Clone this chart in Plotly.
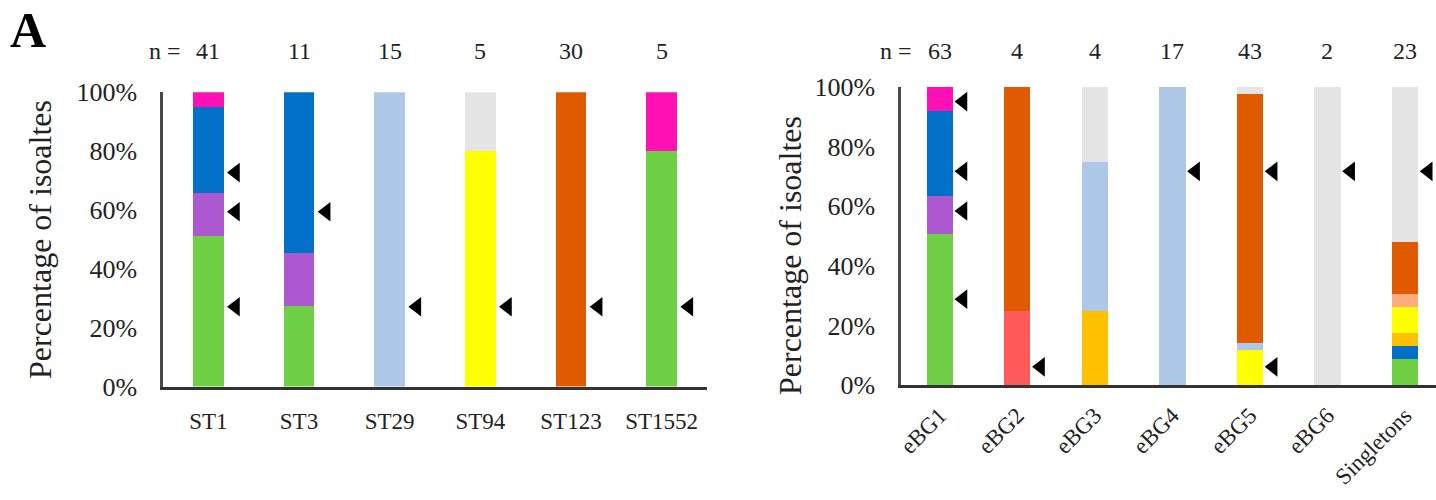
import plotly.graph_objects as go

# ---------------- data ----------------
# Left panel: sequence types, isolate counts per sub-group
st_names = ["ST1", "ST3", "ST29", "ST94", "ST123", "ST1552"]
st_n = [41, 11, 15, 5, 30, 5]
st_green = [21, 3, 0, 0, 0, 4]
st_purple = [6, 2, 0, 0, 0, 0]
st_blue = [12, 6, 0, 0, 0, 0]
st_pink = [2, 0, 0, 0, 0, 1]
st_lightblue = [0, 0, 15, 0, 0, 0]
st_yellow = [0, 0, 0, 4, 0, 0]
st_orange = [0, 0, 0, 0, 30, 0]
st_gray = [0, 0, 0, 1, 0, 0]

# arrowhead markers (category index, percentage level)
st_arrow_idx = [0, 0, 0, 1, 2, 3, 4, 5]
st_arrow_pct = [72.7, 59.4, 27.1, 59.4, 27.1, 27.1, 27.1, 27.1]

# Right panel: eBURST groups, isolate counts per sub-group
bg_names = ["eBG1", "eBG2", "eBG3", "eBG4", "eBG5", "eBG6", "Singletons"]
bg_n = [63, 4, 4, 17, 43, 2, 23]
bg_green = [32, 0, 0, 0, 0, 0, 2]
bg_purple = [8, 0, 0, 0, 0, 0, 0]
bg_blue = [18, 0, 0, 0, 0, 0, 1]
bg_pink = [5, 0, 0, 0, 0, 0, 0]
bg_red = [0, 1, 0, 0, 0, 0, 0]
bg_amber = [0, 0, 1, 0, 0, 0, 1]
bg_yellow = [0, 0, 0, 0, 5, 0, 2]
bg_lightblue = [0, 0, 2, 17, 1, 0, 0]
bg_salmon = [0, 0, 0, 0, 0, 0, 1]
bg_orange = [0, 3, 0, 0, 36, 0, 4]
bg_gray = [0, 0, 1, 0, 1, 2, 12]

bg_arrow_idx = [0, 0, 0, 0, 1, 3, 4, 4, 5, 6]
bg_arrow_pct = [95.1, 71.7, 58.4, 28.8, 6.1, 71.7, 71.7, 6.1, 71.7, 71.7]

pct_ticks = [0, 20, 40, 60, 80, 100]

# ---------------- styles ----------------
COL = {
    "green": "#6fcf45",
    "purple": "#ad57d1",
    "blue": "#0070c8",
    "pink": "#ff11b4",
    "red": "#ff5a5a",
    "amber": "#ffc000",
    "yellow": "#ffff00",
    "lightblue": "#adc8e8",
    "salmon": "#ffab80",
    "orange": "#e05a00",
    "gray": "#e6e5e6",
}
FONT = "Liberation Serif"
BAR_W = 0.34
ARROW_DX = 0.30
W, H = 1436, 500


def pct(counts, totals):
    return [c / t * 100 for c, t in zip(counts, totals)]


fig = go.Figure()

left_stack = [
    (st_green, "green"), (st_purple, "purple"), (st_blue, "blue"),
    (st_pink, "pink"), (st_lightblue, "lightblue"), (st_yellow, "yellow"),
    (st_orange, "orange"), (st_gray, "gray"),
]
for counts, key in left_stack:
    fig.add_trace(go.Bar(
        x=list(range(len(st_names))), y=pct(counts, st_n), width=BAR_W,
        marker=dict(color=COL[key], line=dict(width=0)),
        xaxis="x", yaxis="y", showlegend=False, name=key,
    ))

right_stack = [
    (bg_green, "green"), (bg_purple, "purple"), (bg_blue, "blue"),
    (bg_pink, "pink"), (bg_red, "red"), (bg_amber, "amber"),
    (bg_yellow, "yellow"), (bg_lightblue, "lightblue"), (bg_salmon, "salmon"),
    (bg_orange, "orange"), (bg_gray, "gray"),
]
for counts, key in right_stack:
    fig.add_trace(go.Bar(
        x=list(range(len(bg_names))), y=pct(counts, bg_n), width=BAR_W,
        marker=dict(color=COL[key], line=dict(width=0)),
        xaxis="x2", yaxis="y2", showlegend=False, name=key,
    ))

# black arrowheads beside the bars
fig.add_trace(go.Scatter(
    x=[i + ARROW_DX for i in st_arrow_idx], y=st_arrow_pct, mode="markers",
    marker=dict(symbol="triangle-left", size=17, color="black"),
    xaxis="x", yaxis="y", showlegend=False, cliponaxis=False,
))
fig.add_trace(go.Scatter(
    x=[i + ARROW_DX for i in bg_arrow_idx], y=bg_arrow_pct, mode="markers",
    marker=dict(symbol="triangle-left", size=17, color="black"),
    xaxis="x2", yaxis="y2", showlegend=False, cliponaxis=False,
))

x_tick_font = dict(family=FONT, size=23, color="#222")
y_tick_font = dict(family=FONT, size=26, color="#222")
n_font = dict(family=FONT, size=24, color="#222")
common_y = dict(
    range=[0, 100], tickvals=pct_ticks, ticktext=[f"{v}%" for v in pct_ticks],
    showline=True, linecolor="#4a4a4a", linewidth=2.5, showgrid=False,
    zeroline=False, ticks="outside", ticklen=18, tickcolor="rgba(0,0,0,0)",
    tickfont=y_tick_font, fixedrange=True, automargin=False,
)
common_x = dict(
    showline=True, linecolor="#333", linewidth=3, showgrid=False,
    zeroline=False, ticks="outside", tickcolor="rgba(0,0,0,0)",
    tickfont=x_tick_font, fixedrange=True, automargin=False,
)

fig.update_layout(
    width=W, height=H, margin=dict(l=0, r=0, t=0, b=0, pad=0, autoexpand=False),
    paper_bgcolor="white", plot_bgcolor="white", barmode="stack",
    font=dict(family=FONT, color="#222"),
    xaxis=dict(domain=[163 / W, 707 / W], range=[-0.5, 5.5],
               tickvals=list(range(len(st_names))), ticktext=st_names,
               ticklen=12, anchor="y", **common_x),
    yaxis=dict(domain=[1 - 386.5 / H, 1 - 92.3 / H], anchor="x", **common_y),
    xaxis2=dict(domain=[901 / W, 1.0], range=[-0.5, 6.4],
                tickvals=list(range(len(bg_names))), ticktext=bg_names,
                tickangle=-45, ticklen=5, anchor="y2", **common_x),
    yaxis2=dict(domain=[1 - 385 / H, 1 - 87 / H], anchor="x2", **common_y),
)

ann = []
# panel letter
ann.append(dict(text="<b>A</b>", x=8 / W, y=1.0, xref="paper", yref="paper",
                xanchor="left", yanchor="top", showarrow=False,
                font=dict(family=FONT, size=50, color="black")))
# axis titles
title_font = dict(family=FONT, size=32, color="#222")
ann.append(dict(text="Percentage of isoaltes", x=40 / W, y=1 - 240 / H,
                xref="paper", yref="paper", textangle=-90, showarrow=False,
                xanchor="center", yanchor="middle", font=title_font))
ann.append(dict(text="Percentage of isoaltes", x=790 / W, y=1 - 256 / H,
                xref="paper", yref="paper", textangle=-90, showarrow=False,
                xanchor="center", yanchor="middle", font=title_font))
# sample sizes
n_y = 1 - 51 / H
ann.append(dict(text="n =", x=183 / W, y=n_y, xref="paper", yref="paper",
                xanchor="right", yanchor="middle", showarrow=False, font=n_font))
ann.append(dict(text="n =", x=914 / W, y=n_y, xref="paper", yref="paper",
                xanchor="right", yanchor="middle", showarrow=False, font=n_font))
for i, n in enumerate(st_n):
    ann.append(dict(text=str(n), x=i, y=n_y, xref="x", yref="paper",
                    xanchor="center", yanchor="middle", showarrow=False,
                    font=n_font))
for i, n in enumerate(bg_n):
    ann.append(dict(text=str(n), x=i, y=n_y, xref="x2", yref="paper",
                    xanchor="center", yanchor="middle", showarrow=False,
                    font=n_font))
fig.update_layout(annotations=ann)

fig.write_html("out.html")
